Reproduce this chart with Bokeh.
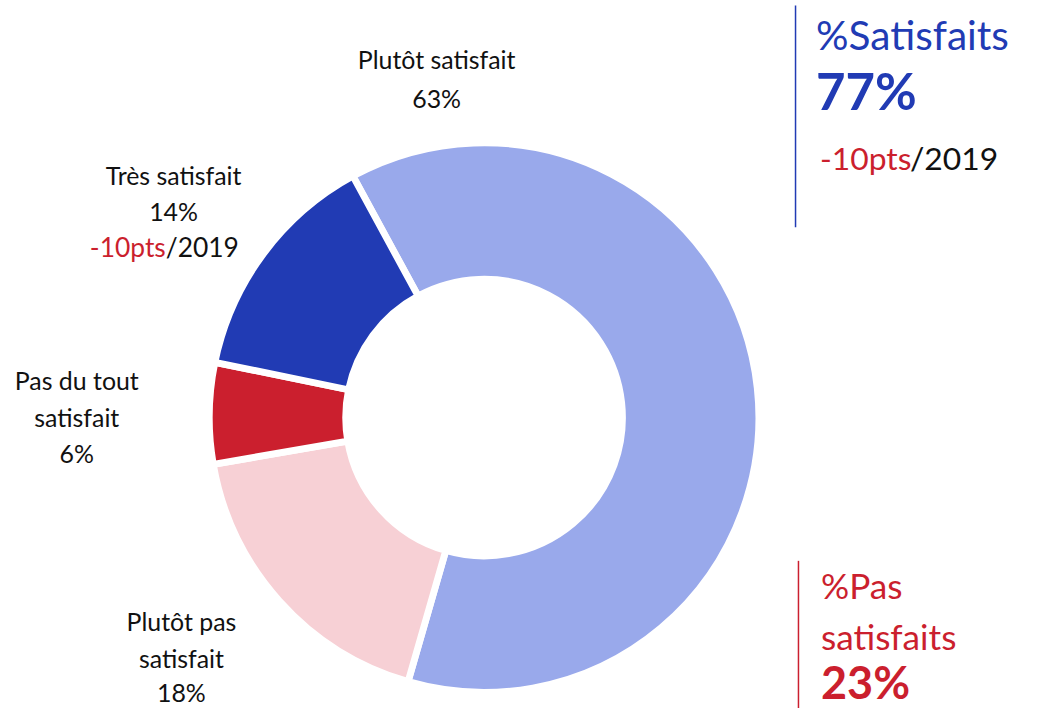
import math
from bokeh.plotting import figure
from bokeh.models import Range1d
from bokeh.core.properties import value
from bokeh.embed import file_html
from bokeh.resources import INLINE

# ---- data ----
categories = ["Plutôt satisfait", "Plutôt pas satisfait", "Pas du tout satisfait", "Très satisfait"]
shares = [63, 18, 6, 14]
colors = ["#99A9EB", "#F7D0D5", "#CB1F2E", "#213BB4"]
total_satisfied = "77%"
total_unsatisfied = "23%"
delta_label = "-10pts"
delta_year = "/2019"

W, H = 1022, 708
S = H / 724.0  # scale from reference layout to figure pixels
FONT = "Lato"
BLUE = "#213BB4"
RED = "#CB1F2E"
BLACK = "#111111"

p = figure(width=W, height=H, output_backend="svg", toolbar_location=None,
           x_range=Range1d(0, W / S), y_range=Range1d(724 - H / S, 724),
           min_border=0, outline_line_color=None)
p.axis.visible = False
p.grid.visible = False

def Y(py):
    return 724 - py

# donut
cx, cy = 494.5, Y(426.5)
r_out, r_in = 281, 141.5
tot = sum(shares)
start = math.radians(118.5)
starts, ends = [], []
acc = start
for v in shares:
    a = v / tot * 2 * math.pi
    starts.append(acc)
    ends.append(acc - a)
    acc -= a
p.annular_wedge(x=[cx] * len(shares), y=[cy] * len(shares), inner_radius=r_in, outer_radius=r_out,
                start_angle=starts, end_angle=ends, direction="clock",
                fill_color=colors, line_color="white", line_width=7 * S)

def txt(x, y, s, size, color=BLACK, align="center", style="normal"):
    p.text(x=[x], y=[Y(y)], text=[s], text_font=value(FONT), text_font_size=f"{size * S:.1f}px",
           text_color=color, text_align=align, text_baseline="middle", text_font_style=style)

LS = 25.5
# slice labels
txt(446, 60, categories[0], LS)
txt(446, 100, f"{shares[0]}%", LS)

txt(177, 178, categories[3], LS)
txt(177, 215, f"{shares[3]}%", LS)
txt(169, 252, delta_label, 27, RED, "right")
txt(169, 252, delta_year, 27, BLACK, "left")

txt(78, 388, "Pas du tout", LS)
txt(78, 426, "satisfait", LS)
txt(78, 463, f"{shares[2]}%", LS)

txt(185, 635, "Plutôt pas", LS)
txt(185, 672, "satisfait", LS)
txt(185, 707, f"{shares[1]}%", LS)

# right panel - satisfied
p.segment(x0=[813], y0=[Y(5)], x1=[813], y1=[Y(232)], line_color=BLUE, line_width=1.5)
txt(834, 35, "%Satisfaits", 41.5, BLUE, "left")
txt(834, 92, total_satisfied, 52, BLUE, "left", "bold")
txt(838, 161, delta_label, 32.5, RED, "left")
txt(930, 161, delta_year, 32.5, BLACK, "left")

# right panel - unsatisfied
p.segment(x0=[816], y0=[Y(573)], x1=[816], y1=[Y(724)], line_color=RED, line_width=1.5)
txt(839, 598, "%Pas", 36, RED, "left")
txt(839, 650, "satisfaits", 36, RED, "left")
txt(839, 697, total_unsatisfied, 46, RED, "left", "bold")

open("out.html", "w").write(file_html(p, INLINE))
